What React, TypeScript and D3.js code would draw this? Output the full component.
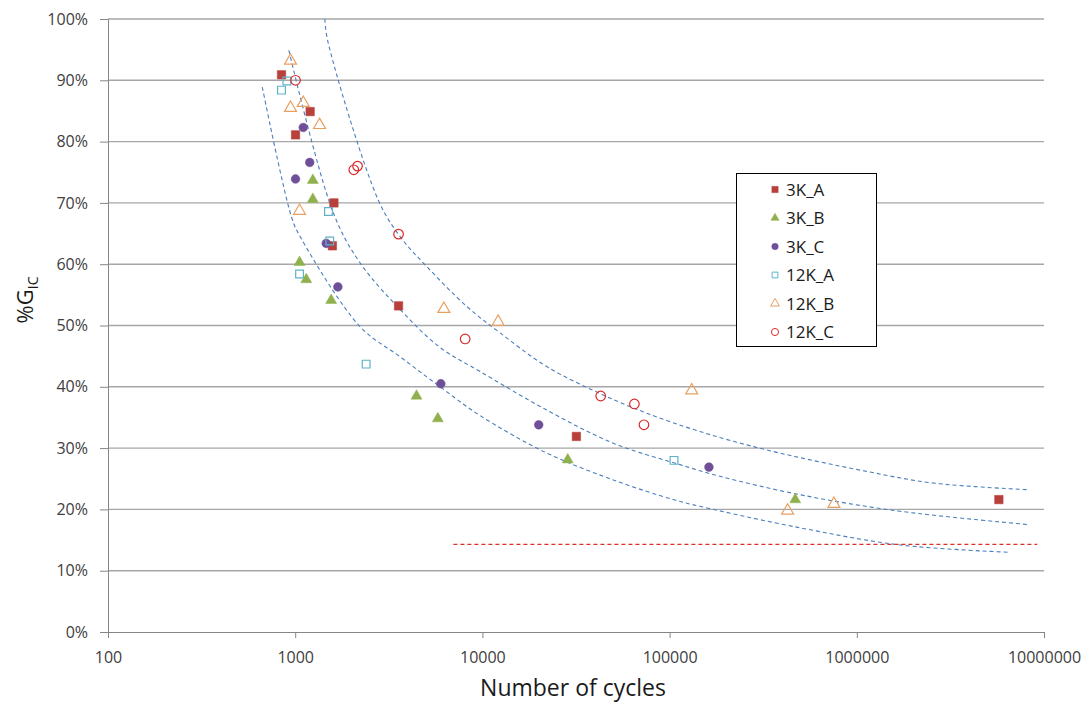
import React, { useEffect, useRef } from 'react'
import * as d3 from 'd3'

// [cycles, %GIC]
const s3KA = [[845, 90.9], [1202, 84.9], [1004, 81.1], [1610, 70.0], [1580, 63.0], [3565, 53.2], [31770, 31.9], [5740000, 21.6]]
const s3KB = [[1242, 73.7], [1242, 70.6], [1055, 60.3], [1146, 57.5], [1556, 54.1], [4446, 38.5], [5780, 34.8], [28570, 28.1], [468800, 21.6]]
const s3KC = [[1104, 82.3], [1196, 76.6], [1004, 73.9], [1465, 63.4], [1690, 56.3], [5998, 40.5], [19990, 33.8], [162200, 26.9]]
const s12KA = [[903, 89.9], [845, 88.4], [1506, 68.6], [1530, 63.8], [1055, 58.4], [2393, 43.7], [105600, 28.0]]
const s12KB = [[944, 93.2], [944, 85.5], [1104, 86.3], [1349, 82.7], [1055, 68.7], [6225, 52.7], [12130, 50.6], [131300, 39.4], [427000, 19.8], [755000, 20.9]]
const s12KC = [[1004, 90.0], [2056, 75.4], [2153, 76.0], [3565, 64.9], [8090, 47.8], [42850, 38.5], [64870, 37.2], [72950, 33.8]]

// dashed trend curves
const curveLow = [[667, 88.9], [960, 67.5], [1063, 64.5], [2223, 49.8], [3636, 44.9], [5946, 40.0], [9720, 35.3], [22070, 29.2], [50050, 24.8], [104660, 21.6], [145300, 20.5], [497000, 17.0], [1700000, 14.2], [6570000, 13.0]]
const curveMid = [[925, 94.9], [1601, 68.3], [2223, 60.2], [3636, 52.6], [5946, 46.4], [9720, 42.5], [22070, 36.2], [50050, 30.8], [113600, 27.3], [185800, 25.4], [497000, 22.4], [1700000, 19.7], [8400000, 17.5]]
const curveHigh = [[1440, 100.0], [1488, 96.6], [2784, 70.4], [3636, 64.5], [5050, 59.6], [8256, 53.1], [12430, 48.8], [22070, 43.3], [46150, 38.4], [75470, 35.7], [145300, 32.7], [330000, 29.7], [1128000, 26.2], [2557000, 24.3], [8400000, 23.2]]
const limitLine = [[7000, 14.3], [9200000, 14.3]]

const xTicks = [100, 1000, 10000, 100000, 1000000, 10000000]
const yTicks = [0, 10, 20, 30, 40, 50, 60, 70, 80, 90, 100]

const seriesNames = ['3K_A', '3K_B', '3K_C', '12K_A', '12K_B', '12K_C']

const FONT = "'Open Sans', sans-serif"

function App() {
  const ref = useRef<SVGSVGElement>(null)

  useEffect(() => {
    document.body.style.margin = '0'
    const svg = d3.select(ref.current)
    svg.selectAll('*').remove()

    const left = 108, right = 1044, top = 19, bottom = 632
    const x = d3.scaleLog().domain([100, 10000000]).range([left, right])
    const y = d3.scaleLinear().domain([0, 100]).range([bottom, top])

    // gridlines
    svg.append('g')
      .selectAll('line')
      .data(yTicks.slice(1))
      .enter()
      .append('line')
      .attr('x1', left).attr('x2', right)
      .attr('y1', d => y(d)).attr('y2', d => y(d))
      .attr('stroke', '#a6a6a6')
      .attr('stroke-width', 1.4)

    // axes
    const yAxis = svg.append('g')
      .attr('transform', `translate(${left},0)`)
      .call(d3.axisLeft(y).tickValues(yTicks).tickSize(8).tickPadding(12).tickFormat(d => d + '%'))
    const xAxis = svg.append('g')
      .attr('transform', `translate(0,${bottom})`)
      .call(d3.axisBottom(x).tickValues(xTicks).tickSize(6).tickPadding(14).tickFormat(d => String(d)))
    for (const ax of [xAxis, yAxis]) {
      ax.select('.domain').attr('stroke', '#868686')
      ax.selectAll('.tick line').attr('stroke', '#868686')
      ax.selectAll('text')
        .attr('font-family', FONT)
        .attr('font-size', 16)
        .attr('fill', '#404040')
    }

    // dashed curves
    const line = d3.line<number[]>()
      .x(d => x(d[0]))
      .y(d => y(d[1]))
      .curve(d3.curveCatmullRom.alpha(0.5))
    for (const c of [curveLow, curveMid, curveHigh]) {
      svg.append('path')
        .attr('d', line(c))
        .attr('fill', 'none')
        .attr('stroke', '#4a7ebb')
        .attr('stroke-width', 1.1)
        .attr('stroke-dasharray', '4,3')
    }
    svg.append('path')
      .attr('d', line(limitLine))
      .attr('fill', 'none')
      .attr('stroke', '#d9302a')
      .attr('stroke-width', 1.1)
      .attr('stroke-dasharray', '4,3')

    // markers
    const sym = {
      square: d3.symbol().type(d3.symbolSquare),
      triangle: d3.symbol().type(d3.symbolTriangle),
      circle: d3.symbol().type(d3.symbolCircle),
    }
    const styles = [
      { data: s3KA, shape: 'square', size: 72, fill: '#b8403c', stroke: '#b8403c' },
      { data: s3KB, shape: 'triangle', size: 52, fill: '#8fb04c', stroke: '#8fb04c' },
      { data: s3KC, shape: 'circle', size: 60, fill: '#6f4f98', stroke: '#6f4f98' },
      { data: s12KA, shape: 'square', size: 60, fill: 'none', stroke: '#5fb3c8' },
      { data: s12KB, shape: 'triangle', size: 62, fill: 'none', stroke: '#e8a062' },
      { data: s12KC, shape: 'circle', size: 72, fill: 'none', stroke: '#d92a2a' },
    ]
    styles.forEach(st => {
      svg.append('g')
        .selectAll('path')
        .data(st.data)
        .enter()
        .append('path')
        .attr('d', sym[st.shape].size(st.size)())
        .attr('transform', d => `translate(${x(d[0])},${y(d[1])})`)
        .attr('fill', st.fill === 'none' ? 'none' : st.fill)
        .attr('stroke', st.stroke)
        .attr('stroke-width', st.fill === 'none' ? 1.2 : 0.5)
    })

    // legend
    const lg = svg.append('g').attr('transform', 'translate(736.5,173.5)')
    lg.append('rect')
      .attr('width', 140).attr('height', 173)
      .attr('fill', '#fff').attr('stroke', '#000').attr('stroke-width', 1)
    styles.forEach((st, i) => {
      const row = lg.append('g').attr('transform', `translate(38.5,${16 + i * 28.5})`)
      row.append('path')
        .attr('d', sym[st.shape].size(st.size * 0.55)())
        .attr('fill', st.fill === 'none' ? 'none' : st.fill)
        .attr('stroke', st.stroke)
        .attr('stroke-width', st.fill === 'none' ? 1 : 0.5)
      row.append('text')
        .attr('x', 11)
        .attr('dy', '0.36em')
        .attr('font-family', FONT)
        .attr('font-size', 17)
        .attr('fill', '#1a1a1a')
        .text(seriesNames[i])
    })

    // axis titles
    svg.append('text')
      .attr('x', 573).attr('y', 696)
      .attr('text-anchor', 'middle')
      .attr('font-family', FONT)
      .attr('font-size', 23)
      .attr('fill', '#1a1a1a')
      .text('Number of cycles')

    const yt = svg.append('text')
      .attr('transform', 'translate(33,300) rotate(-90)')
      .attr('text-anchor', 'middle')
      .attr('font-family', FONT)
      .attr('font-size', 22)
      .attr('fill', '#1a1a1a')
    yt.append('tspan').text('%G')
    yt.append('tspan').attr('font-size', 14).attr('dy', 5).text('IC')
  }, [])

  return <svg ref={ref} width={1087} height={705} style={{ display: 'block', background: '#fff' }} />
}

export default App
